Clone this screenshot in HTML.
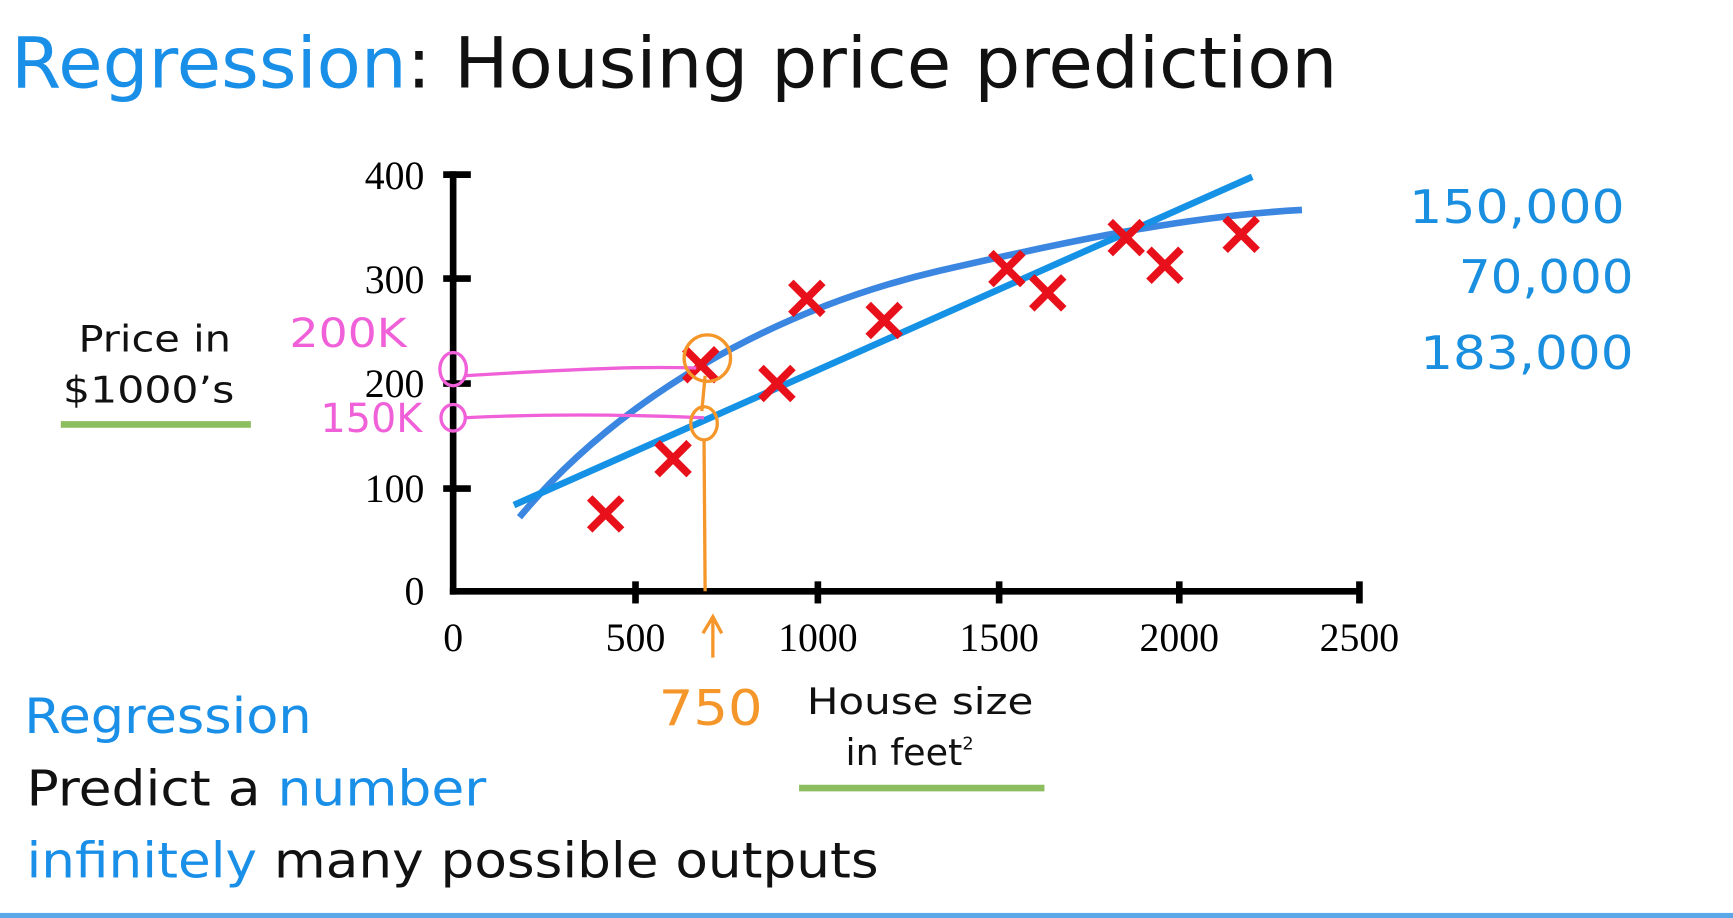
<!DOCTYPE html>
<html><head><meta charset="utf-8"><style>
html,body{margin:0;padding:0;background:#fff;width:1733px;height:918px;overflow:hidden}
svg{display:block}
text{font-family:"DejaVu Sans","Liberation Sans",sans-serif}
text.s{font-family:"Liberation Serif",serif;font-size:36px}
</style></head><body>
<svg width="1733" height="918" viewBox="0 0 1568 830.6" preserveAspectRatio="none">
<rect width="1568" height="830.6" fill="#fff"/>
<text x="10" y="79" font-size="64" textLength="1200" lengthAdjust="spacingAndGlyphs"><tspan fill="#1a8fe8">Regression</tspan><tspan fill="#111">: Housing price prediction</tspan></text>
<g stroke="#000" stroke-width="6">
<line x1="410" y1="155" x2="410" y2="538"/>
<line x1="407" y1="535" x2="1232" y2="535"/>
<line x1="401" y1="158" x2="426" y2="158"/>
<line x1="401" y1="252" x2="426" y2="252"/>
<line x1="401" y1="347" x2="426" y2="347"/>
<line x1="401" y1="442" x2="426" y2="442"/>
<line x1="575" y1="526" x2="575" y2="546"/>
<line x1="740" y1="526" x2="740" y2="546"/>
<line x1="904" y1="526" x2="904" y2="546"/>
<line x1="1067" y1="526" x2="1067" y2="546"/>
<line x1="1230" y1="526" x2="1230" y2="546"/>
</g>
<g text-anchor="end" fill="#000">
<text class="s" x="384" y="171">400</text><text class="s" x="384" y="265">300</text><text class="s" x="384" y="359">200</text><text class="s" x="384" y="454">100</text><text class="s" x="384" y="547">0</text>
</g>
<g text-anchor="middle" fill="#000">
<text class="s" x="410" y="589">0</text><text class="s" x="575" y="589">500</text><text class="s" x="740" y="589">1000</text><text class="s" x="904" y="589">1500</text><text class="s" x="1067" y="589">2000</text><text class="s" x="1230" y="589">2500</text>
</g>
<text x="71" y="318" font-size="33" fill="#111" textLength="138" lengthAdjust="spacingAndGlyphs">Price in</text>
<text x="57" y="364" font-size="33" fill="#111" textLength="155" lengthAdjust="spacingAndGlyphs">$1000’s</text>
<line x1="55" y1="384" x2="227" y2="384" stroke="#8cbd5f" stroke-width="6"/>
<text x="730" y="646" font-size="33" fill="#111" textLength="205" lengthAdjust="spacingAndGlyphs">House size</text>
<text x="765" y="692" font-size="33" fill="#111">in feet<tspan font-size="16" dy="-14">2</tspan></text>
<line x1="723" y1="713" x2="945" y2="713" stroke="#8cbd5f" stroke-width="6"/>
<path d="M470 468 C560 360 700 280 850 245 C980 215 1080 195 1178 190" fill="none" stroke="#3a86e0" stroke-width="6"/>
<line x1="465" y1="457" x2="1133" y2="160" stroke="#1592e6" stroke-width="6"/>
<g stroke="#e8101a" stroke-width="7" stroke-linecap="square">
<path d="M536 453l24 24M560 453l-24 24"/>
<path d="M597 403l24 24M621 403l-24 24"/>
<path d="M691 335l24 24M715 335l-24 24"/>
<path d="M718 258l24 24M742 258l-24 24"/>
<path d="M788 278l24 24M812 278l-24 24"/>
<path d="M899 231l24 24M923 231l-24 24"/>
<path d="M936 253l24 24M960 253l-24 24"/>
<path d="M1007 203l24 24M1031 203l-24 24"/>
<path d="M1042 228l24 24M1066 228l-24 24"/>
<path d="M1111 200l24 24M1135 200l-24 24"/>
<path d="M622 318l24 24M646 318l-24 24"/>
</g>
<g stroke="#f060d8" stroke-width="3" fill="none">
<ellipse cx="410" cy="334" rx="12" ry="15"/>
<ellipse cx="410" cy="378" rx="11" ry="12"/>
<path d="M420 340 Q500 335 560 333 Q600 332 630 333"/>
<path d="M420 378 Q520 373 637 378"/>
</g>
<text x="262" y="314" font-size="36" fill="#f060d8" textLength="106" lengthAdjust="spacingAndGlyphs">200K</text>
<text x="290" y="391" font-size="36" fill="#f060d8" textLength="92" lengthAdjust="spacingAndGlyphs">150K</text>
<g stroke="#f5962a" stroke-width="3" fill="none">
<circle cx="640" cy="324" r="21"/>
<ellipse cx="637" cy="383" rx="12" ry="15"/>
<path d="M638 340 L635 372 M637 398 L638 535"/>
<path d="M645 595 L645 560 M636 573 L645 558 L653 573"/>
</g>
<text x="596" y="656" font-size="44" fill="#f5962a" textLength="94" lengthAdjust="spacingAndGlyphs">750</text>
<g fill="#1a8fe0" font-size="42">
<text x="1275" y="202" textLength="195" lengthAdjust="spacingAndGlyphs">150,000</text>
<text x="1320" y="265" textLength="158" lengthAdjust="spacingAndGlyphs">70,000</text>
<text x="1285" y="334" textLength="193" lengthAdjust="spacingAndGlyphs">183,000</text>
</g>
<text x="22" y="663" font-size="44" fill="#1a8fe8" textLength="260" lengthAdjust="spacingAndGlyphs">Regression</text>
<text x="24" y="729" font-size="44" fill="#111" textLength="416" lengthAdjust="spacingAndGlyphs">Predict a <tspan fill="#1a8fe8">number</tspan></text>
<text x="24" y="794" font-size="44" fill="#111" textLength="771" lengthAdjust="spacingAndGlyphs"><tspan fill="#1a8fe8">infinitely</tspan> many possible outputs</text>
<rect x="0" y="826" width="1568" height="5" fill="#5aa8e8"/>
</svg>
</body></html>
